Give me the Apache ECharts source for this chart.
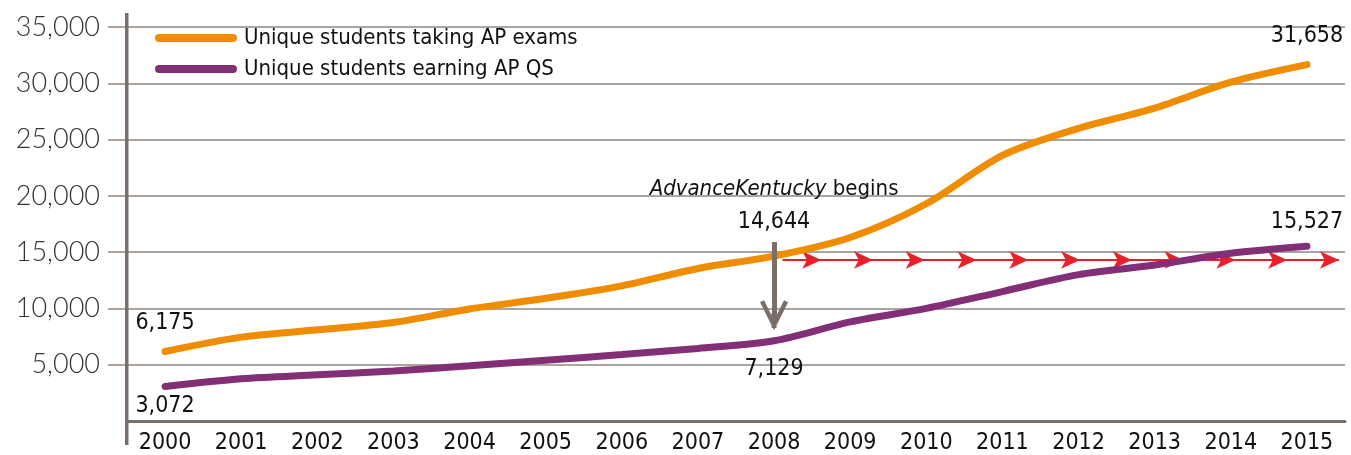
<!DOCTYPE html>
<html>
<head>
<meta charset="utf-8">
<script src="https://cdn.jsdelivr.net/npm/echarts@6/dist/echarts.min.js"></script>
<style>
  html, body { margin: 0; padding: 0; background: #fff; }
  #chart { width: 1351px; height: 455px; }
</style>
</head>
<body>
<div id="chart"></div>
<script>
// chart data
const years = ['2000', '2001', '2002', '2003', '2004', '2005', '2006', '2007',
    '2008', '2009', '2010', '2011', '2012', '2013', '2014', '2015'];
const takingAP = [6175, 7450, 8100, 8750, 9950, 10900, 12000, 13550,
    14644, 16300, 19300, 23600, 26000, 27800, 30100, 31658];
const earningQS = [3072, 3750, 4100, 4450, 4900, 5400, 5900, 6450,
    7129, 8800, 10000, 11500, 13000, 13850, 14900, 15527];
const yTicks = [5000, 10000, 15000, 20000, 25000, 30000, 35000];
// annotation: red arrow track (in category units, 0..16) and level
const arrowLevel = 14300;
const arrowStops = [8.61, 9.12, 9.8, 10.48, 11.16, 11.84, 12.52, 13.2, 13.88, 14.56, 15.24, 15.92];
// gray arrow at 2008
const arrowYear = '2008';
const arrowFrom = 15900;
const arrowTo = 9400;

const condensed = "'Liberation Sans Narrow', 'DejaVu Sans Condensed', sans-serif";
const axisColor = '#7a6e66';
const gridColor = '#8f867f';
const orange = '#f08c00';
const purple = '#832f78';

// only a few points carry a value label
function labelled(values, cfg) {
    return values.map((v, i) => {
        if (!cfg[i]) return v;
        return {
            value: v,
            symbol: 'circle',
            symbolSize: 1,
            label: Object.assign({ show: true }, cfg[i])
        };
    });
}

const fmt = (p) => Number(p.value).toLocaleString('en-US');

const chart = echarts.init(document.getElementById('chart'));
const option = {
    animation: false,
    grid: { left: 127, right: 6, top: 27, bottom: 34, containLabel: false },
    legend: {
        data: ['Unique students taking AP exams', 'Unique students earning AP QS'],
        orient: 'vertical',
        left: 150,
        top: 22,
        itemWidth: 82,
        itemHeight: 8,
        itemGap: 9,
        icon: 'path://M4,0 H78 A4,4 0 0 1 78,8 H4 A4,4 0 0 1 4,0 Z',
        textStyle: { fontFamily: condensed, fontSize: 22, color: '#111', padding: [0, 0, 0, 2] }
    },
    graphic: [{
        // no tick left of the axis at 0
        type: 'rect',
        shape: { x: 100, y: 417, width: 25, height: 7 },
        style: { fill: '#fff' },
        z: 10
    }, {
        type: 'rect',
        shape: { x: 125, y: 13, width: 3.5, height: 432 },
        style: { fill: axisColor },
        z: 11
    }],
    xAxis: [{
        type: 'category',
        data: years,
        boundaryGap: true,
        axisLine: { lineStyle: { color: axisColor, width: 3 } },
        axisTick: { show: false },
        axisLabel: { fontFamily: condensed, fontSize: 23, color: '#111', margin: 11 }
    }, {
        type: 'value',
        min: 0,
        max: 16,
        show: false
    }],
    yAxis: {
        type: 'value',
        min: 0,
        max: yTicks[yTicks.length - 1],
        interval: yTicks[1] - yTicks[0],
        axisLine: { show: false },
        axisTick: {
            show: true,
            length: 19,
            lineStyle: { color: gridColor, width: 1.5 }
        },
        splitLine: { lineStyle: { color: gridColor, width: 1.5 } },
        axisLabel: {
            fontFamily: 'Lato, sans-serif',
            fontWeight: 300,
            fontSize: 27,
            color: '#333',
            margin: 27,
            formatter: (v) => (v === 0 ? '' : v.toLocaleString('en-US'))
        }
    },
    series: [{
        name: 'arrows',
        type: 'line',
        xAxisIndex: 1,
        silent: true,
        clip: false,
        z: 1,
        data: arrowStops.map((x, i) => i === 0 ? { value: [x, arrowLevel], symbol: 'none' } : [x, arrowLevel]),
        symbol: 'arrow',
        symbolSize: [13, 19],
        symbolRotate: -90,
        showAllSymbol: true,
        lineStyle: { color: '#e8202a', width: 2 },
        itemStyle: { color: '#e8202a' }
    }, {
        name: 'Unique students taking AP exams',
        type: 'line',
        smooth: 0.3,
        symbol: 'none',
        showAllSymbol: true,
        z: 3,
        lineStyle: { color: orange, width: 7, cap: 'round' },
        itemStyle: { color: orange },
        label: { fontFamily: condensed, fontSize: 23, color: '#111', formatter: fmt },
        data: labelled(takingAP, {
            0: { position: 'top', distance: 16 },
            8: { position: 'top', distance: 22 },
            15: { position: 'top', distance: 17 }
        })
    }, {
        name: 'Unique students earning AP QS',
        type: 'line',
        smooth: 0.3,
        symbol: 'none',
        showAllSymbol: true,
        z: 4,
        lineStyle: { color: purple, width: 7, cap: 'round' },
        itemStyle: { color: purple },
        label: { fontFamily: condensed, fontSize: 23, color: '#111', formatter: fmt },
        data: labelled(earningQS, {
            0: { position: 'bottom', distance: 8 },
            8: { position: 'bottom', distance: 16 },
            15: { position: 'top', distance: 12 }
        }),
        markLine: {
            silent: true,
            animation: false,
            symbol: ['none', 'path://M14,0 L28,26 L24,28 L14,9 L4,28 L0,26 Z M11.5,2 L16.5,2 L16.5,16 L11.5,16 Z'],
            symbolSize: [28, 30],
            lineStyle: { color: axisColor, width: 5, type: 'solid' },
            label: {
                show: true,
                position: 'start',
                distance: 42,
                formatter: '{i|AdvanceKentucky} begins',
                fontFamily: condensed,
                fontSize: 22,
                color: '#111',
                rich: {
                    i: { fontFamily: condensed, fontSize: 22, fontStyle: 'italic', color: '#111' }
                }
            },
            data: [[{ coord: [arrowYear, arrowFrom] }, { coord: [arrowYear, arrowTo] }]]
        }
    }]
};
chart.setOption(option);
window.addEventListener('resize', function () {
    chart.resize();
});
</script>
</body>
</html>
